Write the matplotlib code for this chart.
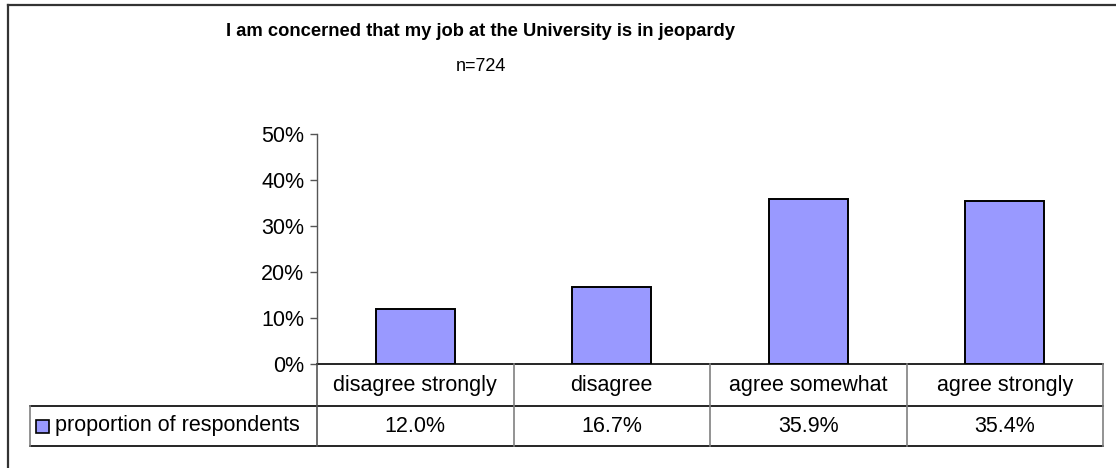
import matplotlib.pyplot as plt
from matplotlib.lines import Line2D
from matplotlib.patches import Rectangle
from matplotlib.transforms import blended_transform_factory

categories = ["disagree strongly", "disagree", "agree somewhat", "agree strongly"]
proportions = [12.0, 16.7, 35.9, 35.4]
yticks = [0, 10, 20, 30, 40, 50]
series_name = "proportion of respondents"
title = "I am concerned that my job at the University is in jeopardy"
subtitle = "n=724"

W, H = 1116, 468
BAR_COLOR = "#9999FF"
GRID_GRAY = "#808080"

plt.rcParams["font.family"] = ["Liberation Sans", "DejaVu Sans"]


def fx(px):
    return px / W


def fy(py):
    # pixel rows counted from the top
    return 1 - py / H


fig = plt.figure(figsize=(W / 100, H / 100), dpi=100)

# chart area frame: only the top and left edges fall inside the image
fig.add_artist(Line2D([fx(7.5), 1.0], [fy(4.5), fy(4.5)], color="#333333",
                      linewidth=1.6, transform=fig.transFigure))
fig.add_artist(Line2D([fx(7.5), fx(7.5)], [fy(4.5), 0.0], color="#333333",
                      linewidth=1.6, transform=fig.transFigure))

fig.text(fx(481), fy(31), title, ha="center", va="center", fontsize=13.2,
         fontweight="bold")
fig.text(fx(481), fy(67), subtitle, ha="center", va="center", fontsize=13)

left, right, top, bottom = 317, 1103, 134, 364
ax = fig.add_axes([fx(left), fy(bottom), fx(right - left), fy(top) - fy(bottom)])

x = range(len(categories))
ax.bar(x, proportions, width=0.4, color=BAR_COLOR, edgecolor="black",
       linewidth=1.4, zorder=3)

ax.set_xlim(-0.5, len(categories) - 0.5)
ax.set_ylim(0, 50)
ax.set_yticks(yticks)
ax.set_yticklabels([f"{t}%" for t in yticks], fontsize=15.5)
ax.set_xticks([])
ax.tick_params(axis="y", direction="out", length=5, width=1, color="#555555", pad=4)
for side in ("top", "right", "bottom"):
    ax.spines[side].set_visible(False)
ax.spines["left"].set_color("#555555")
ax.spines["left"].set_linewidth(1)

# data table below the plot
row1, row2, row3 = 364, 406, 446
tbl_left = 30

def hline(x0, x1, y, color="black"):
    fig.add_artist(Line2D([fx(x0), fx(x1)], [fy(y), fy(y)], color=color,
                          linewidth=1.2, transform=fig.transFigure))

def vline(xp, y0, y1, color=GRID_GRAY):
    fig.add_artist(Line2D([fx(xp), fx(xp)], [fy(y0), fy(y1)], color=color,
                          linewidth=1.2, transform=fig.transFigure))

hline(left, right, row1)
hline(tbl_left, right, row2)
hline(tbl_left, right, row3)
vline(left, row1, row3, "#555555")
vline(tbl_left, row2, row3)
vline(right, row1, row3)

to_px = ax.transData.transform
for i in range(1, len(categories)):
    xb = (to_px((i - 0.5, 0))[0])
    vline(xb, row1, row3)

mix = blended_transform_factory(ax.transData, fig.transFigure)
for i, (cat, val) in enumerate(zip(categories, proportions)):
    ax.text(i, fy((row1 + row2) / 2), cat, transform=mix, ha="center",
            va="center", fontsize=15.5, clip_on=False)
    ax.text(i, fy((row2 + row3) / 2), f"{val:.1f}%", transform=mix,
            ha="center", va="center", fontsize=15.5, clip_on=False)

# legend key in the series row
fig.add_artist(Rectangle((fx(36), fy(433)), fx(13), fy(420) - fy(433),
                         transform=fig.transFigure, facecolor=BAR_COLOR,
                         edgecolor="black", linewidth=1.2))
fig.text(fx(55), fy((row2 + row3) / 2), series_name, ha="left", va="center",
         fontsize=15.5)

fig.savefig("out.png", dpi=100)
